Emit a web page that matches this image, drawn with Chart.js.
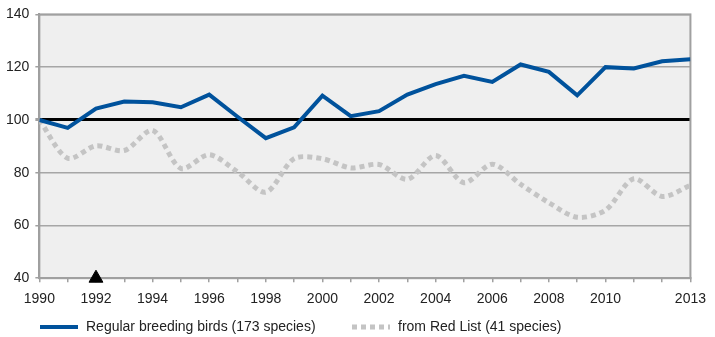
<!DOCTYPE html>
<html>
<head>
<meta charset="utf-8">
<script src="https://cdn.jsdelivr.net/npm/chart.js@4/dist/chart.umd.min.js"></script>
<style>
  html, body { margin: 0; padding: 0; background: #fff; }
  #grafico { display: block; }
</style>
</head>
<body>
<canvas id="grafico" width="715" height="337"></canvas>
<script>
// años del índice
const anios = [1990, 1991, 1992, 1993, 1994, 1995, 1996, 1997, 1998, 1999, 2000, 2001,
               2002, 2003, 2004, 2005, 2006, 2007, 2008, 2009, 2010, 2011, 2012, 2013];
// aves reproductoras regulares (173 especies), 1990 = 100
const avesRegulares = [100, 97, 104.3, 107, 106.7, 104.8, 109.6, 101.2, 93.1, 97.2, 109.2, 101.4,
                       103.3, 109.6, 113.6, 116.7, 114.4, 121, 118.2, 109.3, 120, 119.5, 122.2, 123];
// especies de la Lista Roja (41 especies)
const listaRoja = [100, 85.5, 90.2, 88.4, 96, 81.6, 86.8, 80.3, 72.6, 85.3, 85.3, 81.8,
                   83.1, 77.5, 86.5, 76.2, 83.2, 75.6, 68.6, 63.1, 65.8, 77.7, 71, 75.2];
// etiquetas del eje X (2012 no lleva rótulo)
const etiquetasX = ['1990', '1992', '1994', '1996', '1998', '2000', '2002', '2004', '2006', '2008', '2010', '2013'];
const lineaBase = 100;
const anioMarca = 1992;

const leyenda = ['Regular breeding birds (173 species)', 'from Red List (41 species)'];

Chart.defaults.font.family = "'Liberation Sans', Arial, sans-serif";
Chart.defaults.font.size = 14;
Chart.defaults.color = '#222';

// fondo gris y marco del área de dibujo
const fondoArea = {
  id: 'fondoArea',
  beforeDraw(chart) {
    const { ctx, chartArea: a } = chart;
    ctx.save();
    ctx.fillStyle = '#efefef';
    ctx.fillRect(a.left, a.top, a.width, a.height);
    ctx.restore();
  },
  beforeDatasetsDraw(chart) {
    const { ctx, chartArea: a } = chart;
    ctx.save();
    ctx.strokeStyle = '#a0a0a0';
    ctx.lineWidth = 2;
    ctx.strokeRect(a.left, a.top, a.width, a.height);
    ctx.restore();
  }
};

// leyenda propia debajo del eje
const leyendaAbajo = {
  id: 'leyendaAbajo',
  afterDraw(chart) {
    const { ctx } = chart;
    const y = 327;
    const items = [
      { x: 40, ds: chart.data.datasets[0], texto: leyenda[0] },
      { x: 352, ds: chart.data.datasets[1], texto: leyenda[1] }
    ];
    ctx.save();
    items.forEach(it => {
      ctx.beginPath();
      ctx.strokeStyle = it.ds.borderColor;
      ctx.lineWidth = it.ds.borderWidth;
      ctx.setLineDash(it.ds.borderDash || []);
      ctx.moveTo(it.x, y);
      ctx.lineTo(it.x + 38, y);
      ctx.stroke();
      ctx.setLineDash([]);
      ctx.fillStyle = '#222';
      ctx.font = "14px 'Liberation Sans', Arial, sans-serif";
      ctx.textBaseline = 'middle';
      ctx.fillText(it.texto, it.x + 46, y);
    });
    ctx.restore();
  }
};

new Chart(document.getElementById('grafico'), {
  type: 'line',
  data: {
    datasets: [
      {
        label: leyenda[0],
        data: anios.map((a, i) => ({ x: a, y: avesRegulares[i] })),
        borderColor: '#00529c',
        borderWidth: 4,
        pointRadius: 0,
        tension: 0,
        order: 1
      },
      {
        label: leyenda[1],
        data: anios.map((a, i) => ({ x: a, y: listaRoja[i] })),
        borderColor: '#c4c4c4',
        borderWidth: 5,
        borderDash: [5, 4],
        pointRadius: 0,
        tension: 0.3,
        order: 2
      },
      {
        label: 'marca',
        data: [{ x: anioMarca, y: 40 }],
        showLine: false,
        pointStyle: 'triangle',
        pointRadius: 8,
        pointBackgroundColor: '#000',
        pointBorderColor: '#000',
        pointBorderWidth: 1,
        clip: false,
        order: 0
      }
    ]
  },
  options: {
    responsive: false,
    animation: false,
    layout: { padding: { top: 3, right: 11, bottom: 20, left: 0 } },
    plugins: {
      legend: { display: false },
      tooltip: { enabled: false }
    },
    scales: {
      x: {
        type: 'linear',
        min: 1990,
        max: 2013,
        border: { display: true, color: '#a0a0a0', width: 2 },
        grid: { drawOnChartArea: false, drawTicks: true, tickLength: 4, color: '#a0a0a0', lineWidth: 1.5 },
        ticks: {
          stepSize: 1,
          autoSkip: false,
          maxRotation: 0,
          padding: 9,
          color: '#222',
          callback: (v) => etiquetasX.includes(String(v)) ? String(v) : ''
        }
      },
      y: {
        min: 40,
        max: 140,
        border: { display: true, color: '#a0a0a0', width: 2 },
        grid: {
          color: (c) => c.tick && c.tick.value === lineaBase ? '#000' : '#a6a6a6',
          lineWidth: (c) => c.tick && c.tick.value === lineaBase ? 3 : 1.5,
          tickLength: 4,
          tickColor: '#a0a0a0'
        },
        ticks: { stepSize: 20, padding: 6, color: '#222' }
      }
    }
  },
  plugins: [fondoArea, leyendaAbajo]
});
</script>
</body>
</html>
